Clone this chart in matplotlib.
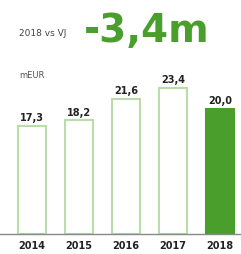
import matplotlib.pyplot as plt

years = ['2014', '2015', '2016', '2017', '2018']
values = [17.3, 18.2, 21.6, 23.4, 20.0]
labels = ['17,3', '18,2', '21,6', '23,4', '20,0']

green = '#4a9e2c'
light_green = '#b9dcaa'

fig = plt.figure(figsize=(2.41, 2.55), dpi=100)
ax = fig.add_axes([0, 20 / 255, 1, 153 / 255])

x = range(len(years))
faces = ['white'] * 4 + [green]
edges = [light_green] * 4 + [green]
ax.bar(x, values, width=0.6, color=faces, edgecolor=edges, linewidth=1.5)

for i, v in enumerate(values):
    ax.text(i, v + 0.6, labels[i], ha='center', va='bottom',
            fontsize=7, fontweight='bold', color='#222222')

ax.set_xlim(-0.68, 4.45)
ax.set_ylim(0, 24.5)
ax.set_xticks(list(x))
ax.set_xticklabels(years, fontsize=7, fontweight='bold', color='#222222')
ax.tick_params(axis='x', length=0, pad=4)
ax.set_yticks([])
for s in ['top', 'right', 'left']:
    ax.spines[s].set_visible(False)
ax.spines['bottom'].set_color('#888888')
ax.spines['bottom'].set_linewidth(1)

fig.text(19 / 241, 1 - 33 / 255, '2018 vs VJ', fontsize=6.5, color='#444444',
         va='center', ha='left')
fig.text(84 / 241, 1 - 31 / 255, '-3,4m', fontsize=28, fontweight='bold',
         color=green, va='center', ha='left')
fig.text(19 / 241, 1 - 75 / 255, 'mEUR', fontsize=6, color='#555555',
         va='center', ha='left')

fig.savefig('out.png', dpi=100)
